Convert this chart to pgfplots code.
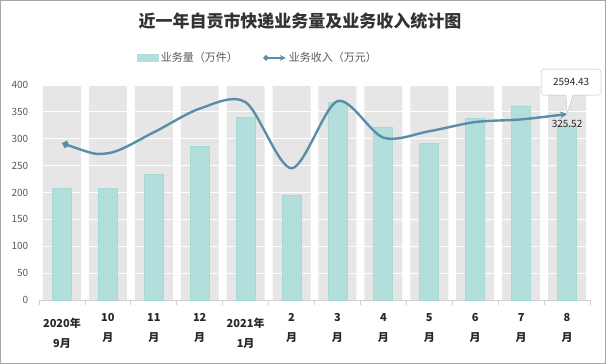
\documentclass[border=0pt]{standalone}
\usepackage{pgfplots}
\pgfplotsset{compat=1.18}
\usepackage{fontspec}
\setmainfont{Noto Sans CJK SC}
\usetikzlibrary{arrows.meta,shapes.callouts}
\definecolor{bgray}{HTML}{E7E6E6}
\definecolor{teal1}{HTML}{B2DFDB}
\definecolor{teal2}{HTML}{A6D9D4}
\definecolor{lineblue}{HTML}{5A8DA7}
\definecolor{txt}{HTML}{595959}
\begin{document}
\begin{tikzpicture}
\draw[gray!70, line width=1pt] (0.5pt,0.5pt) rectangle (605.5pt,363.5pt);
\node[font=\fontsize{17}{20}\selectfont\bfseries, text=black!80] at (300pt,343pt) {近一年自贡市快递业务量及业务收入统计图};
\begin{axis}[
  at={(39pt,64pt)}, anchor=south west, scale only axis,
  width=551pt, height=215pt,
  xmin=-0.5, xmax=11.5, ymin=0, ymax=400,
  clip=false,
  axis x line*=bottom, axis y line*=left,
  y axis line style={draw=none},
  x axis line style={draw=black!18, line width=0.8pt},
  ytick={0,50,...,400},
  ytick style={draw=none},
  xtick={0,...,11},
  major x tick style={draw=none},
  minor xtick={-0.5,0.5,...,11.5},
  minor x tick style={draw=black!18, line width=0.8pt},
  minor tick length=5pt,
  tick align=outside,
  /pgf/number format/assume math mode=true,
  yticklabel style={font=\fontsize{10}{12}\selectfont, text=txt, xshift=-3pt},
  xticklabel style={font=\fontsize{11}{20}\selectfont\bfseries, text=black!85, align=center, yshift=-6pt},
  xticklabels={{\rule{0pt}{14pt}2020年\\9月},{10\\月},{11\\月},{12\\月},{\rule{0pt}{14pt}2021年\\1月},{2\\月},{3\\月},{4\\月},{5\\月},{6\\月},{7\\月},{8\\月}},
  legend style={at={(0.397,1.126)}, anchor=center, draw=none, fill=none, legend columns=2,
    font=\fontsize{11}{13}\selectfont, text=txt,
    /tikz/every even column/.append style={column sep=22pt}},
]
\addplot[ybar, bar width=38pt, bar shift=0pt, fill=bgray, draw=none, forget plot]
  coordinates {(0,400)(1,400)(2,400)(3,400)(4,400)(5,400)(6,400)(7,400)(8,400)(9,400)(10,400)(11,400)};
\pgfplotsinvokeforeach{50,100,150,200,250,300,350,400}{
  \draw[white, line width=1pt] (axis cs:-0.5,#1) -- (axis cs:11.5,#1);
}
\addplot[ybar, bar width=19pt, bar shift=0pt, fill=teal1, draw=teal2, line width=0.8pt,
  legend image code/.code={\fill[teal1] (0cm,-0.14cm) rectangle (0.75cm,0.14cm);}]
  coordinates {(0,208)(1,208)(2,234)(3,285)(4,340)(5,195)(6,368)(7,322)(8,291)(9,337)(10,361)(11,325.52)};
\addlegendentry{业务量（万件）}
\addlegendimage{legend image code/.code={\draw[lineblue, line width=2.2pt, {Diamond[length=6pt,width=6pt]}-{Stealth[length=6pt,width=6pt]}] (0cm,0cm) -- (0.8cm,0cm);}}
\addlegendentry{业务收入（万元）}
\end{axis}
\begin{axis}[
  at={(39pt,64pt)}, anchor=south west, scale only axis,
  width=551pt, height=215pt,
  xmin=-0.5, xmax=11.5, ymin=0, ymax=3000,
  hide axis, clip=false,
]
\addplot[lineblue, line width=2.4pt, smooth, tension=0.5,
  {Diamond[length=8pt,width=8pt]}-{Stealth[length=7pt,width=7pt]}]
  coordinates {(0,2190)(1,2048)(2,2340)(3,2670)(4,2760)(5,1838)(6,2775)(7,2265)(8,2355)(9,2483)(10,2520)(11,2594.43)};
\node[rectangle callout, draw=black!25, fill=white, rounded corners=3pt, minimum width=60pt, minimum height=26pt,
  font=\fontsize{10}{12}\selectfont, text=black!85,
  callout absolute pointer={(axis cs:11,2594.43)}] at (axis cs:11.09,3040) {2594.43};
\node[font=\fontsize{10}{12}\selectfont, text=black!85, anchor=north] at (axis cs:11,2560) {325.52};
\end{axis}
\end{tikzpicture}
\end{document}
